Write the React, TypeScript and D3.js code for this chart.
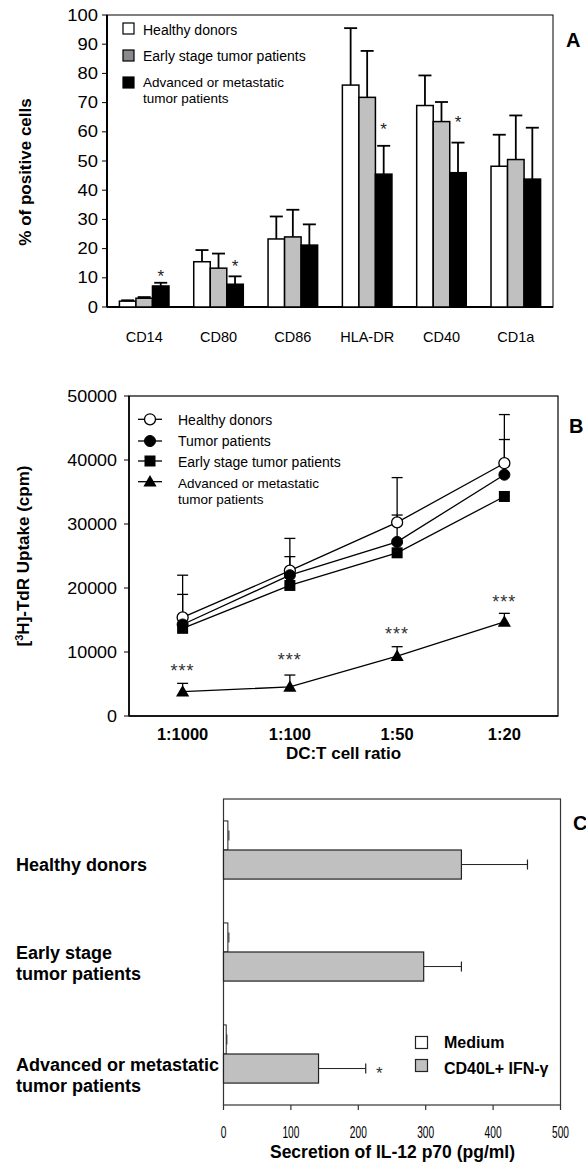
import React from "react";
import * as d3 from "d3";

// ---------- Panel A data ----------
const categoriesA = ["CD14", "CD80", "CD86", "HLA-DR", "CD40", "CD1a"];
const seriesA = ["Healthy donors", "Early stage tumor patients", "Advanced or metastatic tumor patients"];
const healthyA = [2, 15.5, 23.3, 76, 69, 48.2];
const healthyErrA = [0.3, 4, 7.7, 19.5, 10.3, 10.8];
const earlyA = [3, 13.3, 24, 71.8, 63.5, 50.5];
const earlyErrA = [0.4, 5, 9.3, 15.9, 6.7, 15.1];
const advancedA = [7.2, 7.8, 21.2, 45.5, 46, 43.8];
const advancedErrA = [1.1, 2.7, 7.1, 9.7, 10.3, 17.6];
const starCatsA = ["CD14", "CD80", "HLA-DR", "CD40"];
const starValsA = [11.5, 15, 62, 64.5];
const ticksA = [0, 10, 20, 30, 40, 50, 60, 70, 80, 90, 100];

// ---------- Panel B data ----------
const ratiosB = ["1:1000", "1:100", "1:50", "1:20"];
const healthyB = [15400, 22700, 30250, 39500];
const healthyErrB = [6600, 5050, 7000, 7600];
const tumorB = [14300, 22000, 27200, 37700];
const tumorErrB = [4700, 2900, 4200, 5500];
const earlyB = [13700, 20400, 25500, 34300];
const advancedB = [3800, 4550, 9350, 14700];
const advancedErrB = [1300, 1850, 1480, 1340];
const starValsB = [7650, 9400, 13400, 18400];
const ticksB = [0, 10000, 20000, 30000, 40000, 50000];

// ---------- Panel C data ----------
const groupsC = ["Healthy donors", "Early stage tumor patients", "Advanced or metastatic tumor patients"];
const groupLinesC = [["Healthy donors"], ["Early stage", "tumor patients"], ["Advanced or metastatic", "tumor patients"]];
const mediumC = [6.5, 6.5, 4];
const mediumErrC = [1.5, 1.5, 1];
const stimC = [353, 297, 141];
const stimErrC = [98, 56, 70];
const starValC = 231;
const ticksC = [0, 100, 200, 300, 400, 500];

const FONT = "Arial, 'Liberation Sans', sans-serif";
const GREY = "#c0c0c0";

function PanelA() {
  const x = d3.scaleBand<string>().domain(categoriesA).range([107, 553]).paddingInner(0.333).paddingOuter(0.167);
  const sub = d3.scaleBand<string>().domain(seriesA).range([0, x.bandwidth()]);
  const y = d3.scaleLinear().domain([0, 100]).range([307, 15]);
  const series = [
    { name: seriesA[0], vals: healthyA, errs: healthyErrA, fill: "#ffffff" },
    { name: seriesA[1], vals: earlyA, errs: earlyErrA, fill: GREY },
    { name: seriesA[2], vals: advancedA, errs: advancedErrA, fill: "#000000" },
  ];
  const legendFills = ["#ffffff", "#8a8a8a", "#000000"];
  return (
    <g>
      <rect x={107} y={y(100)} width={553 - 107} height={y(0) - y(100)} fill="none" stroke="#000" strokeWidth={1} />
      <line x1={107} x2={107} y1={y(100)} y2={y(0)} stroke="#000" strokeWidth={2} />
      <line x1={107} x2={553} y1={y(0)} y2={y(0)} stroke="#000" strokeWidth={2} />
      {ticksA.map((t) => (
        <g key={t}>
          <line x1={102} x2={107} y1={y(t)} y2={y(t)} stroke="#000" strokeWidth={1} />
          <text transform={`translate(98,${y(t)}) scale(1.15,1)`} dy="0.35em" textAnchor="end" fontSize={16} fontFamily={FONT}>{t}</text>
        </g>
      ))}
      {series.map((s) =>
        categoriesA.map((c, i) => {
          const bx = (x(c) as number) + (sub(s.name) as number);
          const bw = sub.bandwidth();
          const cx = bx + bw / 2;
          return (
            <g key={s.name + c}>
              <line x1={cx} x2={cx} y1={y(s.vals[i])} y2={y(s.vals[i] + s.errs[i])} stroke="#000" strokeWidth={1.8} />
              <line x1={cx - 6.5} x2={cx + 6.5} y1={y(s.vals[i] + s.errs[i])} y2={y(s.vals[i] + s.errs[i])} stroke="#000" strokeWidth={1.8} />
              <rect x={bx} y={y(s.vals[i])} width={bw} height={y(0) - y(s.vals[i])} fill={s.fill} stroke="#000" strokeWidth={1.5} />
            </g>
          );
        })
      )}
      {starCatsA.map((c, i) => {
        const cx = (x(c) as number) + (sub(seriesA[2]) as number) + sub.bandwidth() / 2;
        return (
          <text key={c} x={cx} y={y(starValsA[i]) + 9} textAnchor="middle" fontSize={17} fontFamily={FONT} fill="#222">*</text>
        );
      })}
      {categoriesA.map((c) => (
        <text key={c} x={(x(c) as number) + x.bandwidth() / 2} y={342} textAnchor="middle" fontSize={14.5} fontFamily={FONT}>{c}</text>
      ))}
      <text transform="translate(31,172) rotate(-90)" textAnchor="middle" fontSize={17} fontWeight="bold" fontFamily={FONT}>% of positive cells</text>
      {legendFills.map((f, i) => (
        <rect key={i} x={123} y={[23, 50, 77][i]} width={11} height={11} fill={f} stroke="#000" strokeWidth={1.2} />
      ))}
      <text x={143} y={35} fontSize={14} fontFamily={FONT}>Healthy donors</text>
      <text x={143} y={61} fontSize={14} fontFamily={FONT}>Early stage tumor patients</text>
      <text x={143} y={87} fontSize={13.5} fontFamily={FONT}>Advanced or metastatic</text>
      <text x={143} y={102.5} fontSize={13.5} fontFamily={FONT}>tumor patients</text>
      <text x={566} y={47} fontSize={20} fontWeight="bold" fontFamily={FONT}>A</text>
    </g>
  );
}

function Marker({ type, cx, cy }: { type: string; cx: number; cy: number }) {
  if (type === "open") return <circle cx={cx} cy={cy} r={5.5} fill="#fff" stroke="#000" strokeWidth={1.3} />;
  if (type === "filled") return <circle cx={cx} cy={cy} r={5.5} fill="#000" stroke="#000" />;
  if (type === "square") return <rect x={cx - 5.5} y={cy - 5.5} width={11} height={11} fill="#000" />;
  const tri = d3.symbol().type(d3.symbolTriangle).size(75)();
  return <path d={tri as string} transform={`translate(${cx},${cy + 1})`} fill="#000" />;
}

function PanelB() {
  const x = d3.scalePoint<string>().domain(ratiosB).range([129, 558]).padding(0.5);
  const y = d3.scaleLinear().domain([0, 50000]).range([716, 396]);
  const series = [
    { name: "Healthy donors", vals: healthyB, errs: healthyErrB, m: "open" },
    { name: "Tumor patients", vals: tumorB, errs: tumorErrB, m: "filled" },
    { name: "Early stage tumor patients", vals: earlyB, errs: null as number[] | null, m: "square" },
    { name: "Advanced or metastatic tumor patients", vals: advancedB, errs: advancedErrB, m: "triangle" },
  ];
  const line = d3.line<number>().x((_, i) => x(ratiosB[i]) as number).y((v) => y(v));
  const legendY = [419.3, 441, 461, 481.7];
  const legendText = [["Healthy donors"], ["Tumor patients"], ["Early stage tumor patients"], ["Advanced or metastatic", "tumor patients"]];
  const legendBase = [[424.5], [446], [466.5], [488, 503.5]];
  return (
    <g>
      <rect x={129} y={y(50000)} width={558 - 129} height={y(0) - y(50000)} fill="none" stroke="#000" strokeWidth={1.2} />
      <line x1={129} x2={129} y1={y(50000)} y2={y(0)} stroke="#000" strokeWidth={1.6} />
      <line x1={129} x2={558} y1={y(0)} y2={y(0)} stroke="#000" strokeWidth={1.6} />
      {ticksB.map((t) => (
        <g key={t}>
          <line x1={124} x2={129} y1={y(t)} y2={y(t)} stroke="#000" />
          <text transform={`translate(117,${y(t)}) scale(1.12,1)`} dy="0.35em" textAnchor="end" fontSize={16} fontFamily={FONT}>{t}</text>
        </g>
      ))}
      {series.map((s) =>
        s.errs
          ? s.vals.map((v, i) => {
              const cx = x(ratiosB[i]) as number;
              const top = y(v + (s.errs as number[])[i]);
              return (
                <g key={s.name + i}>
                  <line x1={cx} x2={cx} y1={y(v)} y2={top} stroke="#000" strokeWidth={1.3} />
                  <line x1={cx - 5.5} x2={cx + 5.5} y1={top} y2={top} stroke="#000" strokeWidth={1.3} />
                </g>
              );
            })
          : null
      )}
      {series.map((s) => (
        <path key={s.name} d={line(s.vals) as string} fill="none" stroke="#000" strokeWidth={1.3} />
      ))}
      {series.map((s) =>
        s.vals.map((v, i) => <Marker key={s.name + i} type={s.m} cx={x(ratiosB[i]) as number} cy={y(v)} />)
      )}
      {starValsB.map((v, i) => (
        <text key={i} x={x(ratiosB[i]) as number} y={y(v) + 10} textAnchor="middle" fontSize={18} letterSpacing={1} fontFamily={FONT} fill="#333">***</text>
      ))}
      {ratiosB.map((r) => (
        <text key={r} x={x(r) as number} y={740} textAnchor="middle" fontSize={16.5} fontWeight="bold" fontFamily={FONT}>{r}</text>
      ))}
      <text x={343.5} y={759} textAnchor="middle" fontSize={17} fontWeight="bold" fontFamily={FONT}>DC:T cell ratio</text>
      <text transform="translate(29,556) rotate(-90)" textAnchor="middle" fontSize={17} fontWeight="bold" fontFamily={FONT}>
        [<tspan fontSize={11} dy={-6}>3</tspan><tspan dy={6}>H]-TdR Uptake (cpm)</tspan>
      </text>
      {series.map((s, i) => (
        <g key={"lg" + i}>
          <line x1={138} x2={162} y1={legendY[i]} y2={legendY[i]} stroke="#000" strokeWidth={1.3} />
          <Marker type={s.m} cx={150} cy={legendY[i]} />
          {legendText[i].map((t, j) => (
            <text key={j} x={178} y={legendBase[i][j]} fontSize={legendText[i].length > 1 ? 13.5 : 14} fontFamily={FONT}>{t}</text>
          ))}
        </g>
      ))}
      <text x={569} y={433} fontSize={20} fontWeight="bold" fontFamily={FONT}>B</text>
    </g>
  );
}

function PanelC() {
  const x = d3.scaleLinear().domain([0, 500]).range([223.5, 560.5]);
  const y = d3.scaleBand<string>().domain(groupsC).range([799, 1105]).paddingInner(0.43).paddingOuter(0.215);
  const sub = d3.scaleBand<string>().domain(["Medium", "CD40L+ IFN-γ"]).range([0, y.bandwidth()]);
  const labelBase = [871, 959, 1071];
  return (
    <g>
      <rect x={x(0)} y={799} width={x(500) - x(0)} height={1105 - 799} fill="none" stroke="#333" strokeWidth={1.2} />
      {ticksC.map((t) => (
        <g key={t}>
          <line x1={x(t)} x2={x(t)} y1={1105} y2={1110} stroke="#333" strokeWidth={1.2} />
          <text transform={`translate(${x(t)},1138) scale(0.6,1)`} textAnchor="middle" fontSize={17} fontFamily={FONT}>{t}</text>
        </g>
      ))}
      {groupsC.map((g, i) => {
        const gy = y(g) as number;
        const my = gy + (sub("Medium") as number);
        const sy = gy + (sub("CD40L+ IFN-γ") as number);
        const h = sub.bandwidth();
        const mEnd = x(mediumC[i] + mediumErrC[i]);
        const sEnd = x(stimC[i] + stimErrC[i]);
        return (
          <g key={g}>
            <rect x={x(0)} y={my} width={x(mediumC[i]) - x(0)} height={h} fill="#fff" stroke="#222" strokeWidth={1} />
            <line x1={mEnd} x2={mEnd} y1={my + h / 2 - 5} y2={my + h / 2 + 5} stroke="#222" strokeWidth={1} />
            <line x1={x(stimC[i])} x2={sEnd} y1={sy + h / 2} y2={sy + h / 2} stroke="#222" strokeWidth={1} />
            <line x1={sEnd} x2={sEnd} y1={sy + h / 2 - 5} y2={sy + h / 2 + 5} stroke="#222" strokeWidth={1.2} />
            <rect x={x(0)} y={sy} width={x(stimC[i]) - x(0)} height={h} fill={GREY} stroke="#222" strokeWidth={1.2} />
            {groupLinesC[i].map((t, j) => (
              <text key={j} x={16} y={labelBase[i] + j * 21} fontSize={18} fontWeight="bold" fontFamily={FONT}>{t}</text>
            ))}
          </g>
        );
      })}
      <text x={x(starValC)} y={(y(groupsC[2]) as number) + (sub("CD40L+ IFN-γ") as number) + sub.bandwidth() / 2 + 10} textAnchor="middle" fontSize={17} fontFamily={FONT} fill="#333">*</text>
      <rect x={415.5} y={1036.5} width={12} height={12} fill="#fff" stroke="#222" strokeWidth={1.2} />
      <rect x={415.5} y={1059.5} width={12} height={12} fill={GREY} stroke="#222" strokeWidth={1.2} />
      <text x={444} y={1048} fontSize={16} fontWeight="bold" fontFamily={FONT}>Medium</text>
      <text x={444} y={1074} fontSize={16} fontWeight="bold" fontFamily={FONT}>CD40L+ IFN-γ</text>
      <text x={392.5} y={1158} textAnchor="middle" fontSize={17.5} fontWeight="bold" fontFamily={FONT}>Secretion of IL-12 p70 (pg/ml)</text>
      <text x={573} y={830} fontSize={20} fontWeight="bold" fontFamily={FONT}>C</text>
    </g>
  );
}

export default function App() {
  return (
    <svg width={586} height={1167} style={{ position: "absolute", left: 0, top: 0, background: "#fff" }} fontFamily={FONT}>
      <rect width={586} height={1167} fill="#fff" />
      <PanelA />
      <PanelB />
      <PanelC />
    </svg>
  );
}
